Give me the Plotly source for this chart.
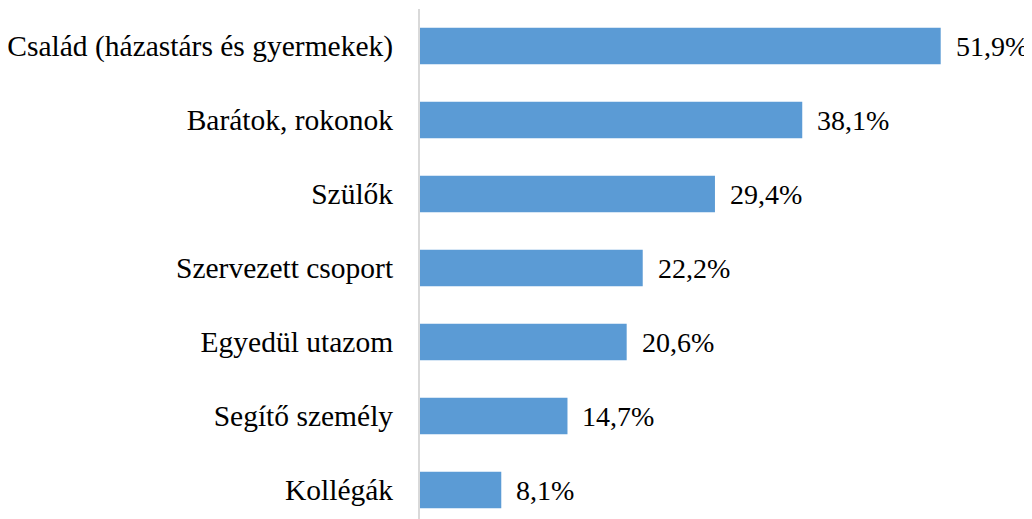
import plotly.graph_objects as go

categories = ["Kollégák", "Segítő személy", "Egyedül utazom", "Szervezett csoport",
              "Szülők", "Barátok, rokonok", "Család (házastárs és gyermekek)"]
values = [8.1, 14.7, 20.6, 22.2, 29.4, 38.1, 51.9]
value_labels = ["8,1%", "14,7%", "20,6%", "22,2%", "29,4%", "38,1%", "51,9%"]

FONT = "Liberation Serif"
idx = list(range(len(categories)))

fig = go.Figure(go.Bar(
    x=values, y=idx, orientation="h",
    marker=dict(color="#5B9BD5", line=dict(width=0)),
    hoverinfo="skip",
))

for i, v, t in zip(idx, values, value_labels):
    fig.add_annotation(x=v, y=i, text=t, showarrow=False, xanchor="left",
                       yanchor="middle", xshift=13,
                       font=dict(family=FONT, size=28, color="#000000"))

# page body adds an 8px offset, so the figure is sized/margined to compensate
fig.update_layout(
    width=1024, height=511,
    margin=dict(l=412, r=0, t=1, b=0, autoexpand=False),
    paper_bgcolor="white", plot_bgcolor="white",
    bargap=0.51,
    showlegend=False,
)
fig.update_xaxes(range=[0, 61.0], visible=False, showgrid=False, zeroline=False)
fig.update_yaxes(
    range=[6.5 - 510 / 74, 6.5],
    tickmode="array", tickvals=idx, ticktext=categories,
    showline=True, linecolor="#D9D9D9", linewidth=2,
    showgrid=False, zeroline=False, ticks="",
    ticklabelstandoff=19, automargin=False,
    tickfont=dict(family=FONT, size=29.5, color="#000000"),
)

fig.write_html("out.html")
